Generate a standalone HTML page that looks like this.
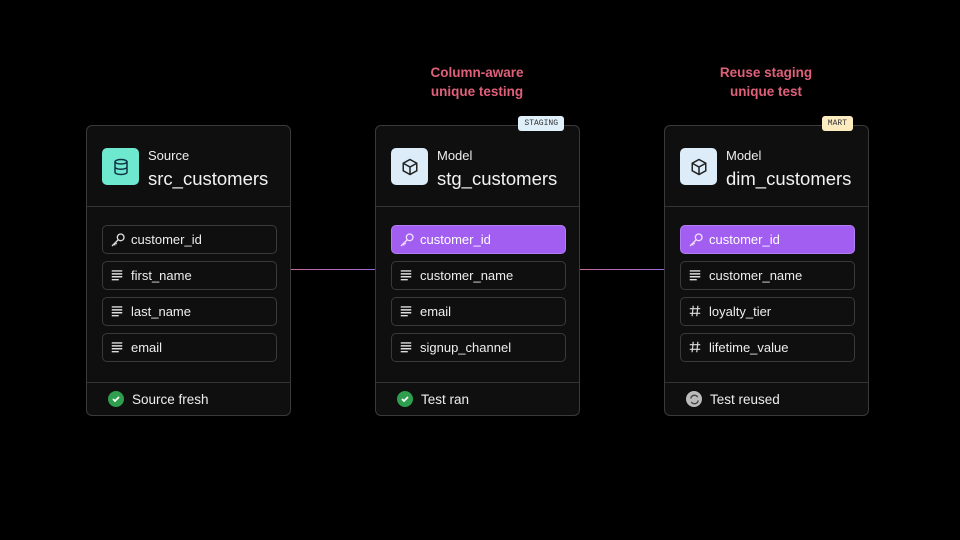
<!DOCTYPE html><html><head><style>
body{margin:0;width:960px;height:540px;background:#000;position:relative;overflow:hidden;font-family:"Liberation Sans",sans-serif;color:#eee}
.card{position:absolute;top:125px;width:205px;height:291px;border:1px solid #3a3a3a;border-radius:6px;background:#0f0f0f;box-sizing:border-box}
.ic{position:absolute;left:15px;top:22px;width:37px;height:37px;border-radius:5px;display:flex;align-items:center;justify-content:center}
.k{position:absolute;left:61px;top:22px;font-size:13px;color:#eee}
.n{position:absolute;left:61px;top:42px;font-size:18.5px;color:#f2f2f2}
.hd{position:absolute;left:0;right:0;top:80px;border-top:1px solid #333}
.fd{position:absolute;left:0;right:0;top:256px;border-top:1px solid #333}
.row{position:absolute;left:15px;width:175px;height:29px;border:1px solid #3a3a3a;border-radius:5px;box-sizing:border-box;font-size:13px;line-height:27px;padding-left:28px;color:#eee}
.row svg{position:absolute;left:7px;top:6px}
.pk{background:#a25ef0;border-color:#b47cf5;color:#fff}
.ft{position:absolute;left:21px;top:265px;font-size:13.5px;display:flex;align-items:center;gap:8px}
.dot{width:16px;height:16px;border-radius:50%;background:#2f9e4e;display:flex;align-items:center;justify-content:center}
.t{position:absolute;width:200px;text-align:center;font-weight:bold;font-size:13.5px;line-height:19px;color:#e0607a}
.t span{color:#b46ae6}
.badge{position:absolute;top:-10px;right:15px;font-family:"Liberation Mono",monospace;font-size:8px;padding:3px 6px;border-radius:3px;color:#333}
.line{position:absolute;top:269px;height:1px;background:linear-gradient(90deg,#c86a9a,#9a6ad8)}
</style></head><body>
<div class="t" style="left:377px;top:63px">Column-aware<br>unique testing</div>
<div class="t" style="left:666px;top:63px">Reuse staging<br>unique test</div>
<div class="line" style="left:291px;width:84px"></div>
<div class="line" style="left:580px;width:84px"></div>

<div class="card" style="left:86px">
<div class="ic" style="background:#6fe8d0"><svg width="18" height="18" viewBox="0 0 24 24" fill="none" stroke="#134" stroke-width="2"><ellipse cx="12" cy="5" rx="8" ry="3"/><path d="M4 5v14c0 1.7 3.6 3 8 3s8-1.3 8-3V5M4 12c0 1.7 3.6 3 8 3s8-1.3 8-3"/></svg></div>
<div class="k">Source</div><div class="n">src_customers</div><div class="hd"></div>
<div class="row" style="top:99px"><svg width="16" height="16" viewBox="0 0 24 24" fill="none" stroke="#ddd" stroke-width="2"><circle cx="16" cy="8" r="5"/><path d="M12 12L3 21M6 18l2 2M8 16l2 2"/></svg>customer_id</div>
<div class="row" style="top:135px"><svg width="14" height="14" viewBox="0 0 24 24" stroke="#ddd" stroke-width="2.5"><path d="M3 5h18M3 10h18M3 15h18M3 20h12"/></svg>first_name</div>
<div class="row" style="top:171px"><svg width="14" height="14" viewBox="0 0 24 24" stroke="#ddd" stroke-width="2.5"><path d="M3 5h18M3 10h18M3 15h18M3 20h12"/></svg>last_name</div>
<div class="row" style="top:207px"><svg width="14" height="14" viewBox="0 0 24 24" stroke="#ddd" stroke-width="2.5"><path d="M3 5h18M3 10h18M3 15h18M3 20h12"/></svg>email</div>
<div class="fd"></div><div class="ft"><div class="dot"><svg width="10" height="10" viewBox="0 0 10 10" fill="none" stroke="#fff" stroke-width="1.8"><path d="M2 5l2 2 4-4"/></svg></div>Source fresh</div>
</div>

<div class="card" style="left:375px">
<div class="badge" style="background:#dff0fb">STAGING</div>
<div class="ic" style="background:#dcecf8"><svg width="18" height="18" viewBox="0 0 24 24" fill="none" stroke="#222" stroke-width="2"><path d="M12 2l9 5v10l-9 5-9-5V7z"/><path d="M3 7l9 5 9-5M12 12v10"/></svg></div>
<div class="k">Model</div><div class="n">stg_customers</div><div class="hd"></div>
<div class="row pk" style="top:99px"><svg width="16" height="16" viewBox="0 0 24 24" fill="none" stroke="#f0e0ff" stroke-width="2"><circle cx="16" cy="8" r="5"/><path d="M12 12L3 21M6 18l2 2M8 16l2 2"/></svg>customer_id</div>
<div class="row" style="top:135px"><svg width="14" height="14" viewBox="0 0 24 24" stroke="#ddd" stroke-width="2.5"><path d="M3 5h18M3 10h18M3 15h18M3 20h12"/></svg>customer_name</div>
<div class="row" style="top:171px"><svg width="14" height="14" viewBox="0 0 24 24" stroke="#ddd" stroke-width="2.5"><path d="M3 5h18M3 10h18M3 15h18M3 20h12"/></svg>email</div>
<div class="row" style="top:207px"><svg width="14" height="14" viewBox="0 0 24 24" stroke="#ddd" stroke-width="2.5"><path d="M3 5h18M3 10h18M3 15h18M3 20h12"/></svg>signup_channel</div>
<div class="fd"></div><div class="ft"><div class="dot"><svg width="10" height="10" viewBox="0 0 10 10" fill="none" stroke="#fff" stroke-width="1.8"><path d="M2 5l2 2 4-4"/></svg></div>Test ran</div>
</div>

<div class="card" style="left:664px">
<div class="badge" style="background:#fdebc0">MART</div>
<div class="ic" style="background:#dcecf8"><svg width="18" height="18" viewBox="0 0 24 24" fill="none" stroke="#222" stroke-width="2"><path d="M12 2l9 5v10l-9 5-9-5V7z"/><path d="M3 7l9 5 9-5M12 12v10"/></svg></div>
<div class="k">Model</div><div class="n">dim_customers</div><div class="hd"></div>
<div class="row pk" style="top:99px"><svg width="16" height="16" viewBox="0 0 24 24" fill="none" stroke="#f0e0ff" stroke-width="2"><circle cx="16" cy="8" r="5"/><path d="M12 12L3 21M6 18l2 2M8 16l2 2"/></svg>customer_id</div>
<div class="row" style="top:135px"><svg width="14" height="14" viewBox="0 0 24 24" stroke="#ddd" stroke-width="2.5"><path d="M3 5h18M3 10h18M3 15h18M3 20h12"/></svg>customer_name</div>
<div class="row" style="top:171px"><svg width="14" height="14" viewBox="0 0 24 24" stroke="#ddd" stroke-width="2"><path d="M9 3L7 21M17 3l-2 18M3 8h18M3 16h18"/></svg>loyalty_tier</div>
<div class="row" style="top:207px"><svg width="14" height="14" viewBox="0 0 24 24" stroke="#ddd" stroke-width="2"><path d="M9 3L7 21M17 3l-2 18M3 8h18M3 16h18"/></svg>lifetime_value</div>
<div class="fd"></div><div class="ft"><div class="dot" style="background:#bbb"><svg width="11" height="11" viewBox="0 0 24 24" fill="none" stroke="#444" stroke-width="3"><path d="M4 10a8 8 0 0 1 15-3M20 14a8 8 0 0 1-15 3"/></svg></div>Test reused</div>
</div>
</body></html>
